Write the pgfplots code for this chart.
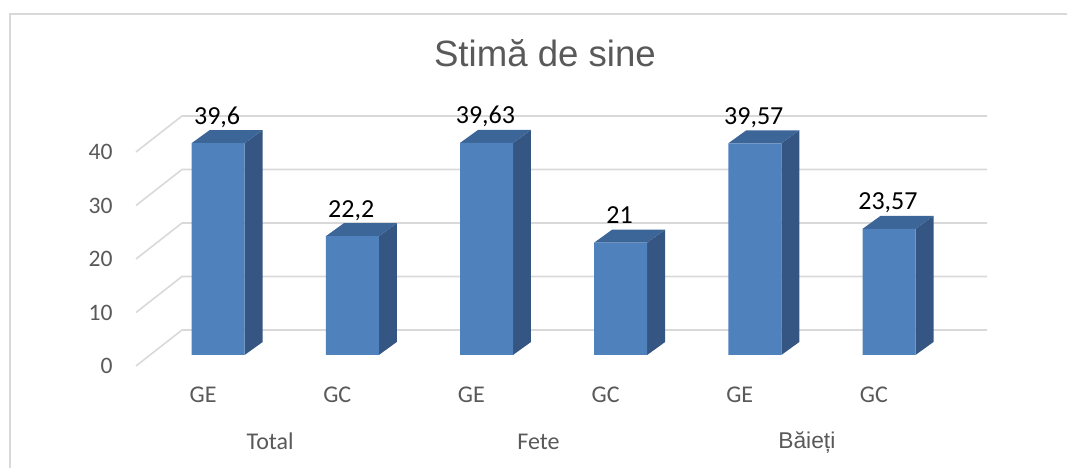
\documentclass[border=0pt]{standalone}
\usepackage{fontspec}
\setmainfont{Carlito}
\newfontfamily\arialf{Liberation Sans}
\usepackage{pgfplots}
\pgfplotsset{compat=1.18}
\usepackage{pgfplotstable}
\definecolor{txt}{HTML}{595959}
\definecolor{grd}{HTML}{D9D9D9}
\definecolor{barF}{HTML}{4F81BD}
\definecolor{barS}{HTML}{355582}
\definecolor{barT}{HTML}{3C6598}

\pgfplotstableread{
c h label
0.5 39.6 39,6
1.5 22.2 22,2
2.5 39.63 39,63
3.5 21 21
4.5 39.57 39,57
5.5 23.57 23,57
}\vals

\begin{document}
\begin{tikzpicture}
\begin{axis}[
  x=67.085bp, y=2.675bp,
  xmin=0, xmax=6.343, ymin=0, ymax=46.73,
  clip=false,
  axis line style={draw=none},
  tick style={draw=none},
  major tick length=0pt,
  xtick={0.5,1.5,2.5,3.5,4.5,5.5},
  xticklabels={GE,GC,GE,GC,GE,GC},
  ytick={0,10,20,30,40},
  /pgf/number format/assume math mode=true,
  xticklabel style={anchor=base, inner sep=0pt, yshift=-18.5bp, text=txt, font=\fontsize{12bp}{14bp}\selectfont},
  yticklabel style={anchor=east, inner sep=0pt, xshift=-11.5bp, text=txt, font=\fontsize{11.8bp}{14bp}\selectfont},
]
% gridlines (floor/back wall)
\addplot[grd, line width=0.8bp, mark=none] coordinates {(0,0) (0.343,6.73) (6.343,6.73)};
\addplot[grd, line width=0.8bp, mark=none] coordinates {(0,10) (0.343,16.73) (6.343,16.73)};
\addplot[grd, line width=0.8bp, mark=none] coordinates {(0,20) (0.343,26.73) (6.343,26.73)};
\addplot[grd, line width=0.8bp, mark=none] coordinates {(0,30) (0.343,36.73) (6.343,36.73)};
\addplot[grd, line width=0.8bp, mark=none] coordinates {(0,40) (0.343,46.73) (6.343,46.73)};
% side faces
\addplot[fill=barS, draw=none, mark=none] coordinates {(0.81,2.06) (0.944,4.49) (0.944,44.09) (0.81,41.66)};
\addplot[fill=barS, draw=none, mark=none] coordinates {(1.81,2.06) (1.944,4.49) (1.944,26.69) (1.81,24.26)};
\addplot[fill=barS, draw=none, mark=none] coordinates {(2.81,2.06) (2.944,4.49) (2.944,44.12) (2.81,41.69)};
\addplot[fill=barS, draw=none, mark=none] coordinates {(3.81,2.06) (3.944,4.49) (3.944,25.49) (3.81,23.06)};
\addplot[fill=barS, draw=none, mark=none] coordinates {(4.81,2.06) (4.944,4.49) (4.944,44.06) (4.81,41.63)};
\addplot[fill=barS, draw=none, mark=none] coordinates {(5.81,2.06) (5.944,4.49) (5.944,28.06) (5.81,25.63)};
% top faces
\addplot[fill=barT, draw=none, mark=none] coordinates {(0.415,41.66) (0.81,41.66) (0.944,44.09) (0.549,44.09)};
\addplot[fill=barT, draw=none, mark=none] coordinates {(1.415,24.26) (1.81,24.26) (1.944,26.69) (1.549,26.69)};
\addplot[fill=barT, draw=none, mark=none] coordinates {(2.415,41.69) (2.81,41.69) (2.944,44.12) (2.549,44.12)};
\addplot[fill=barT, draw=none, mark=none] coordinates {(3.415,23.06) (3.81,23.06) (3.944,25.49) (3.549,25.49)};
\addplot[fill=barT, draw=none, mark=none] coordinates {(4.415,41.63) (4.81,41.63) (4.944,44.06) (4.549,44.06)};
\addplot[fill=barT, draw=none, mark=none] coordinates {(5.415,25.63) (5.81,25.63) (5.944,28.06) (5.549,28.06)};
% front faces
\addplot[ybar, bar width=26.5bp, bar shift=7.547bp, yshift=5.51bp, fill=barF, draw=none] table[x=c, y=h] {\vals};
% value labels
\addplot[draw=none, mark=none, nodes near coords, point meta=explicit symbolic,
  every node near coord/.append style={anchor=base, inner sep=0pt, text=black, xshift=7.0bp, yshift=15.0bp, font=\fontsize{13bp}{15bp}\selectfont}]
  table[x=c, y=h, meta=label] {\vals};
% group labels and title
\node[anchor=base, inner sep=0pt, text=txt, font=\fontsize{12bp}{14bp}\selectfont] at (axis cs:1,-15.70) {Total};
\node[anchor=base, inner sep=0pt, text=txt, font=\fontsize{12bp}{14bp}\selectfont] at (axis cs:3,-15.70) {Fete};
\node[anchor=base, inner sep=0pt, text=txt, font=\arialf\fontsize{11.4bp}{13bp}\selectfont] at (axis cs:5,-15.33) {Băieți};
\node[anchor=base, inner sep=0pt, text=txt, font=\arialf\fontsize{18.3bp}{22bp}\selectfont] at (axis cs:3.048,55.89) {Stimă de sine};
% chart frame (top and left edges visible)
\draw[grd, line width=1bp] (axis cs:-0.939,-19.07) -- (axis cs:-0.939,65.79) -- (axis cs:6.939,65.79);
\coordinate (bl) at (axis cs:-1.0136,-19.07);
\coordinate (tr) at (axis cs:6.939,68.41);
\end{axis}
\pgfresetboundingbox
\path (bl) rectangle (tr);
\end{tikzpicture}
\end{document}
